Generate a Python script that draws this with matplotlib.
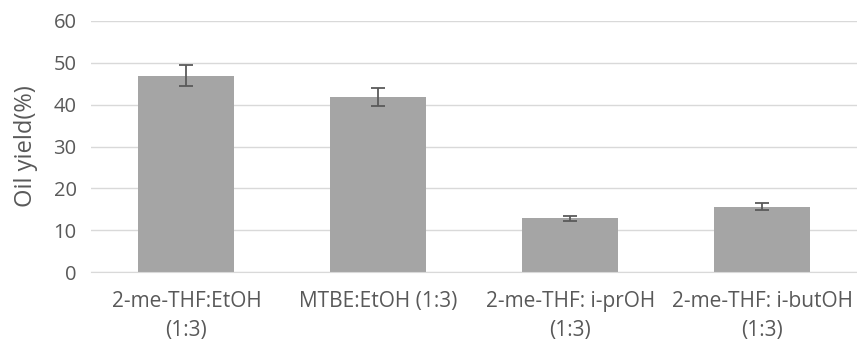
import matplotlib
matplotlib.use("Agg")
import matplotlib.pyplot as plt

categories = ["2-me-THF:EtOH\n(1:3)", "MTBE:EtOH (1:3)", "2-me-THF: i-prOH\n(1:3)", "2-me-THF: i-butOH\n(1:3)"]
yields = [46.9, 41.9, 12.8, 15.6]
errors = [2.5, 2.2, 0.7, 0.8]
y_ticks = [0, 10, 20, 30, 40, 50, 60]

plt.rcParams['font.family'] = ['Open Sans', 'DejaVu Sans']
text_color = '#595959'

fig = plt.figure(figsize=(8.57, 3.41), dpi=100)
ax = fig.add_axes([90.5 / 857, 1 - 272 / 341, (858 - 90.5) / 857, (272 - 21) / 341])

x = range(len(categories))
ax.bar(x, yields, width=0.5, color='#a5a5a5', zorder=2,
       yerr=errors, error_kw=dict(ecolor='#5a5a5a', elinewidth=1.3, capsize=4.7, capthick=1.3))

ax.set_xlim(-0.5, len(categories) - 0.5)
ax.set_ylim(0, 60)
ax.set_yticks(y_ticks)
ax.yaxis.grid(True, color='#d9d9d9', linewidth=1.0, zorder=0)
ax.set_axisbelow(True)
for s in ['top', 'right', 'left']:
    ax.spines[s].set_visible(False)
ax.spines['bottom'].set_color('#d9d9d9')
ax.tick_params(axis='y', length=0, colors=text_color, labelsize=14.5, pad=10)
ax.tick_params(axis='x', length=0, colors=text_color, labelsize=15, pad=14)
ax.set_xticks(list(x))
ax.set_xticklabels(categories, linespacing=1.45)
ax.set_ylabel("Oil yield(%)", fontsize=17, color=text_color, labelpad=11)

fig.savefig("out.png", dpi=100)
